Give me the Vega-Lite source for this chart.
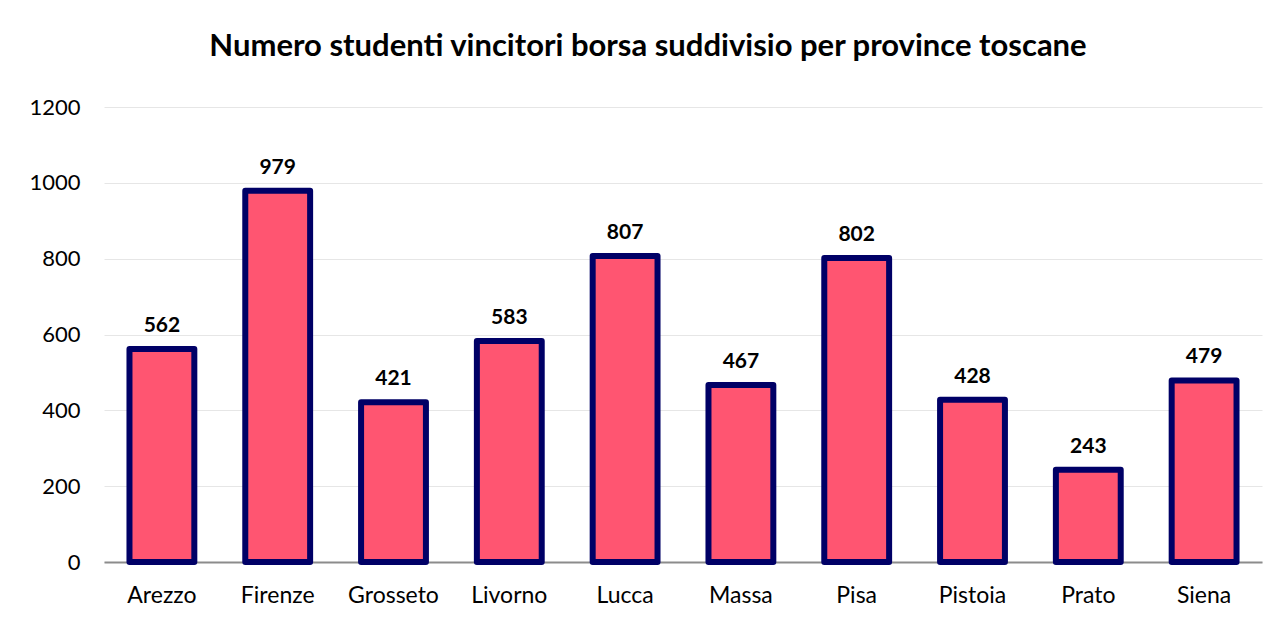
{
  "$schema": "https://vega.github.io/schema/vega-lite/v6.json",
  "width": 1158,
  "height": 455,
  "autosize": {"type": "none"},
  "padding": {"left": 104, "top": 107, "right": 17, "bottom": 60},
  "background": "white",
  "title": {
    "text": "Numero studenti vincitori borsa suddivisio per province toscane",
    "font": "Lato",
    "fontSize": 31,
    "fontWeight": "bold",
    "color": "#000000",
    "anchor": "middle",
    "dx": -35,
    "offset": 18,
    "baseline": "middle"
  },
  "data": {
    "values": [
      {"provincia": "Arezzo", "studenti": 562},
      {"provincia": "Firenze", "studenti": 979},
      {"provincia": "Grosseto", "studenti": 421},
      {"provincia": "Livorno", "studenti": 583},
      {"provincia": "Lucca", "studenti": 807},
      {"provincia": "Massa", "studenti": 467},
      {"provincia": "Pisa", "studenti": 802},
      {"provincia": "Pistoia", "studenti": 428},
      {"provincia": "Prato", "studenti": 243},
      {"provincia": "Siena", "studenti": 479}
    ]
  },
  "encoding": {
    "x": {
      "field": "provincia",
      "type": "nominal",
      "sort": null,
      "scale": {"paddingInner": 0.44, "paddingOuter": 0.22},
      "axis": {
        "title": null,
        "labelAngle": 0,
        "labelFont": "Lato",
        "labelFontSize": 23,
        "labelColor": "#000000",
        "labelPadding": 22,
        "ticks": false,
        "domainColor": "#8c8c8c",
        "domainWidth": 2,
        "grid": false
      }
    },
    "y": {
      "field": "studenti",
      "type": "quantitative",
      "scale": {"domain": [0, 1200]},
      "axis": {
        "title": null,
        "values": [0, 200, 400, 600, 800, 1000, 1200],
        "format": "d",
        "labelFont": "Lato",
        "labelFontSize": 22,
        "labelColor": "#000000",
        "labelPadding": 24,
        "ticks": false,
        "domain": false,
        "grid": true,
        "gridColor": "#e6e6e6",
        "gridWidth": 1
      }
    }
  },
  "layer": [
    {
      "mark": {
        "type": "bar",
        "fill": "#FF5571",
        "stroke": "#000066",
        "strokeWidth": 6,
        "strokeJoin": "round"
      }
    },
    {
      "mark": {
        "type": "text",
        "font": "Lato",
        "fontSize": 21,
        "fontWeight": "bold",
        "color": "#000000",
        "baseline": "bottom",
        "dy": -13
      },
      "encoding": {"text": {"field": "studenti", "type": "quantitative"}}
    }
  ],
  "config": {"view": {"stroke": null}}
}
